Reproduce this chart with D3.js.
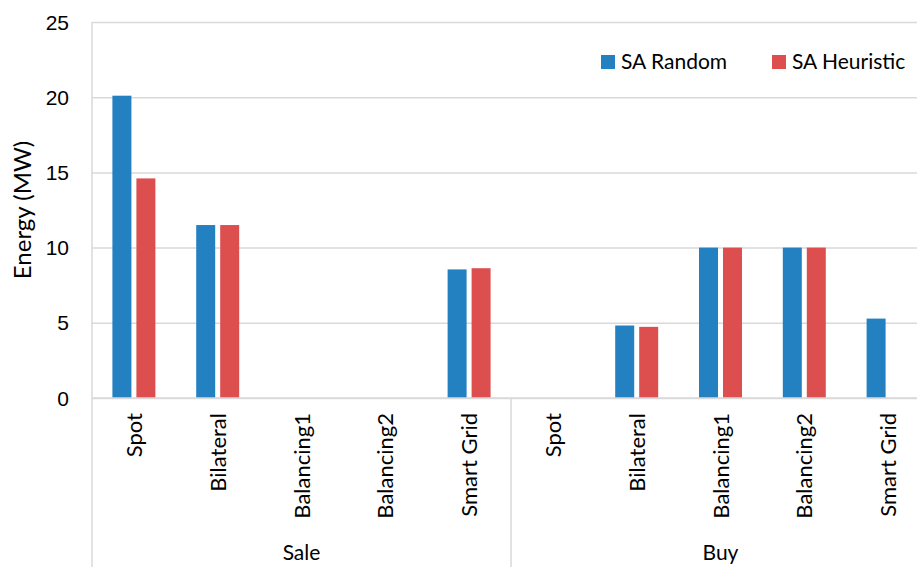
<!DOCTYPE html>
<html>
<head>
<meta charset="utf-8">
<script src="https://cdn.jsdelivr.net/npm/d3@7"></script>
<style>
  body { margin: 0; background: #fff; }
  svg { display: block; font-family: Lato, "Open Sans", sans-serif; }
  .y-axis .domain { display: none; }
  .y-axis line { stroke: #d9d9d9; stroke-width: 1.5; }
  .y-axis text { font-size: 21px; fill: #000; }
</style>
</head>
<body>
<div id="chart"></div>
<script>
// groups and categories along the x axis
const groups = ["Sale", "Buy"];
const categories = ["Spot", "Bilateral", "Balancing1", "Balancing2", "Smart Grid"];
const seriesNames = ["SA Random", "SA Heuristic"];

// values per group, in category order (MW)
const saRandom = [20.1, 11.5, 0, 0, 8.55, 0, 4.82, 10, 10, 5.28];
const saHeuristic = [14.6, 11.5, 0, 0, 8.63, 0, 4.73, 10, 10, 0];
const yTicks = [0, 5, 10, 15, 20, 25];

const colors = ["#2381c2", "#dd4f4f"];

// Dimensions & margins
const W = 917, H = 567;
const margin = { top: 22, right: -13, bottom: 169, left: 92 };
const width = W - margin.left - margin.right;
const height = H - margin.top - margin.bottom;

const svg = d3.select("#chart").append("svg")
    .attr("width", W)
    .attr("height", H);

const g = svg.append("g")
    .attr("transform", `translate(${margin.left},${margin.top})`);

// build rows from the arrays
const keys = [];
groups.forEach(gr => categories.forEach(c => keys.push(gr + "|" + c)));
const rows = keys.map((k, i) => ({ key: k, values: [saRandom[i], saHeuristic[i]] }));

// scales
const x = d3.scaleBand().domain(keys).range([0, width]).padding(0);
const pairW = x.bandwidth() * 0.513;
const x1 = d3.scaleBand().domain(seriesNames).range([-pairW / 2, pairW / 2])
    .paddingInner(0.208).paddingOuter(0);
const y = d3.scaleLinear().domain([0, 25]).range([height, 0]);

// y axis with gridlines
g.append("g")
    .attr("class", "y-axis")
    .call(d3.axisLeft(y).tickValues(yTicks).tickSize(-width).tickPadding(23))
    .call(a => a.selectAll("text").attr("dy", "0.34em"));

// left vertical line, from top of plot to bottom of image
g.append("line")
    .attr("x1", 0).attr("x2", 0)
    .attr("y1", 0).attr("y2", H - margin.top)
    .attr("stroke", "#d9d9d9").attr("stroke-width", 1.5);

// divider between Sale and Buy
const divX = x(groups[1] + "|" + categories[0]);
g.append("line")
    .attr("x1", divX).attr("x2", divX)
    .attr("y1", height).attr("y2", H - margin.top)
    .attr("stroke", "#d9d9d9").attr("stroke-width", 1.5);

// bars
rows.forEach(r => {
    const cx = x(r.key) + x.bandwidth() / 2;
    r.values.forEach((v, j) => {
        if (v <= 0) return;
        g.append("rect")
            .attr("x", cx + x1(seriesNames[j]))
            .attr("y", y(v))
            .attr("width", x1.bandwidth())
            .attr("height", y(0) - y(v))
            .attr("fill", colors[j]);
    });
});

// zero line on top of bars
g.append("line")
    .attr("x1", 0).attr("x2", width)
    .attr("y1", y(0)).attr("y2", y(0))
    .attr("stroke", "#d9d9d9").attr("stroke-width", 1.5);

// category labels, rotated
rows.forEach(r => {
    const cx = x(r.key) + x.bandwidth() / 2;
    g.append("text")
        .attr("transform", `translate(${cx + 8},${height + 15}) rotate(-90)`)
        .attr("text-anchor", "end")
        .attr("font-size", 22)
        .text(r.key.split("|")[1]);
});

// group labels
groups.forEach(gr => {
    const first = x(gr + "|" + categories[0]);
    const last = x(gr + "|" + categories[categories.length - 1]) + x.bandwidth();
    g.append("text")
        .attr("x", (first + last) / 2)
        .attr("y", 538)
        .attr("text-anchor", "middle")
        .attr("font-size", 21)
        .text(gr);
});

// y axis title
svg.append("text")
    .attr("transform", `translate(31,${margin.top + height / 2}) rotate(-90)`)
    .attr("text-anchor", "middle")
    .attr("font-size", 24)
    .text("Energy (MW)");

// legend
const legendX = [601, 772];
seriesNames.forEach((s, j) => {
    svg.append("rect")
        .attr("x", legendX[j]).attr("y", 55)
        .attr("width", 14).attr("height", 14)
        .attr("fill", colors[j]);
    svg.append("text")
        .attr("x", legendX[j] + 20).attr("y", 69)
        .attr("font-size", 21)
        .text(s);
});
</script>
</body>
</html>
